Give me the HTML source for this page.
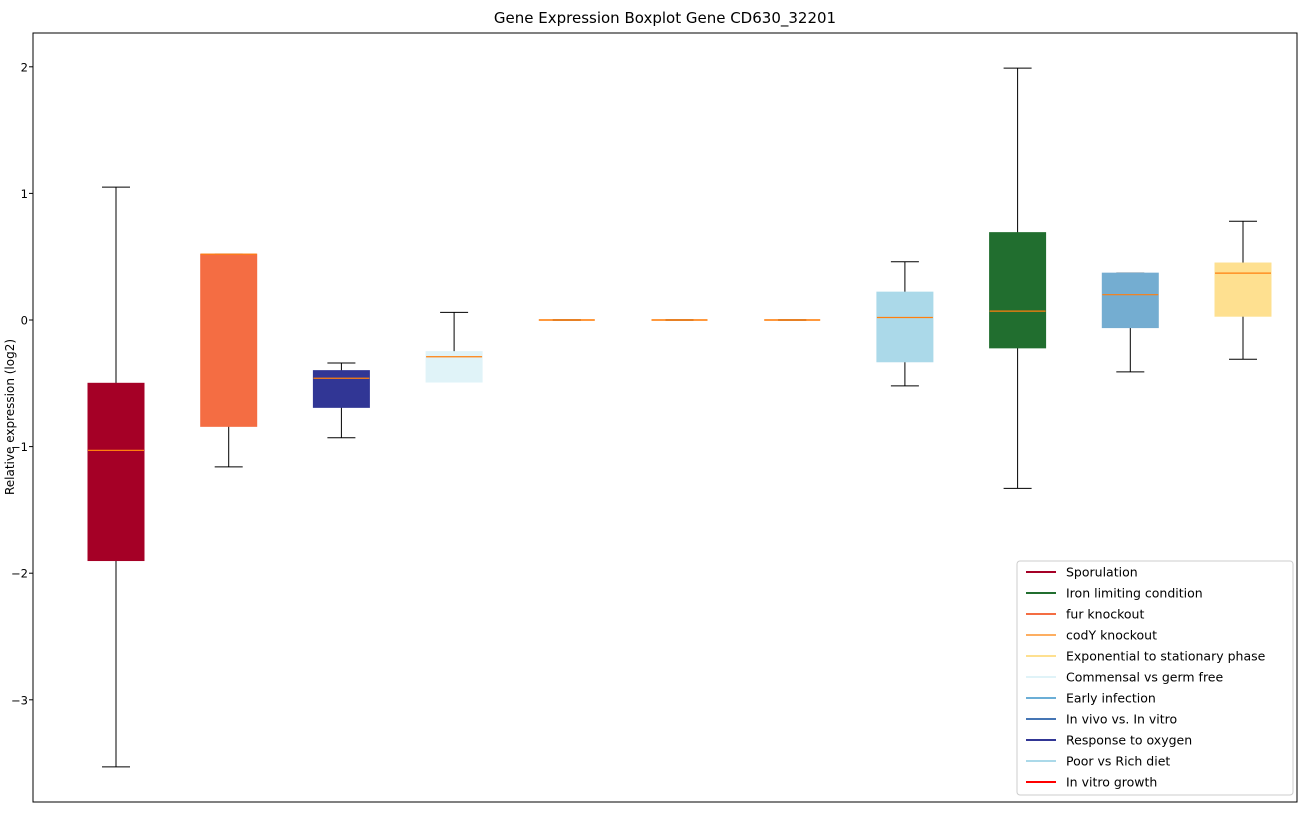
<!DOCTYPE html>
<html><head><meta charset="utf-8"><style>
body{margin:0;background:#fff;font-family:"Liberation Sans","DejaVu Sans",sans-serif;}
svg text{font-family:"DejaVu Sans","Liberation Sans",sans-serif;}
</style></head><body>
<svg id="chart" width="1309" height="812" xmlns="http://www.w3.org/2000/svg"></svg>
<script>
const categories=["Sporulation","fur knockout","Response to oxygen","Commensal vs germ free","codY knockout","In vivo vs. In vitro","In vitro growth","Poor vs Rich diet","Iron limiting condition","Early infection","Exponential to stationary phase"];
const colors=["#a50026","#f46d43","#313695","#e0f3f8","#fdae61","#4575b4","#ff0000","#abd9e9","#216e2f","#74add1","#fee090"];
const whiskLow=[-3.53,-1.16,-0.93,-0.49,0,0,0,-0.52,-1.33,-0.41,-0.31];
const q1=[-1.9,-0.84,-0.69,-0.49,0,0,0,-0.33,-0.22,-0.06,0.03];
const medians=[-1.03,0.52,-0.46,-0.29,0,0,0,0.02,0.07,0.2,0.37];
const q3=[-0.5,0.52,-0.40,-0.25,0,0,0,0.22,0.69,0.37,0.45];
const whiskHigh=[1.05,0.52,-0.34,0.06,0,0,0,0.46,1.99,0.37,0.78];
const yTicks=[-3,-2,-1,0,1,2];
const legendLabels=["Sporulation","Iron limiting condition","fur knockout","codY knockout","Exponential to stationary phase","Commensal vs germ free","Early infection","In vivo vs. In vitro","Response to oxygen","Poor vs Rich diet","In vitro growth"];
const legendColors=["#a50026","#216e2f","#f46d43","#fdae61","#fee090","#e0f3f8","#6baed6","#4575b4","#313695","#abd9e9","#ff0000"];

const svg=document.getElementById('chart');const NS="http://www.w3.org/2000/svg";
const L=33,R=1297,T=33,B=802;
const y=v=>320-126.6*v;
const x=i=>116+i*112.7;
function mk(tag,attrs,parent){const e=document.createElementNS(NS,tag);for(const k in attrs)e.setAttribute(k,attrs[k]);(parent||svg).appendChild(e);return e;}
const title=mk('text',{x:665,y:23,'text-anchor':'middle','font-size':15,fill:'#000'});title.textContent="Gene Expression Boxplot Gene CD630_32201";


const yl=mk('text',{x:0,y:0,transform:'translate(14,417) rotate(-90)','text-anchor':'middle','font-size':12});yl.textContent="Relative expression (log2)";


yTicks.forEach(t=>{const g=mk('g',{});


mk('line',{x1:L-4,x2:L,y1:y(t),y2:y(t),stroke:'#000'},g);
const tx=mk('text',{x:L-5,y:y(t)+4.5,'text-anchor':'end','font-size':11.5},g);tx.textContent=(t<0?'\u2212'+(-t):t);});
categories.forEach((c,i)=>{const g=mk('g',{});


const cx=x(i),w=56;
mk('line',{x1:cx,x2:cx,y1:y(whiskLow[i]),y2:y(q1[i]),stroke:'#000'},g);
mk('line',{x1:cx,x2:cx,y1:y(q3[i]),y2:y(whiskHigh[i]),stroke:'#000'},g);
mk('line',{x1:cx-14,x2:cx+14,y1:y(whiskLow[i]),y2:y(whiskLow[i]),stroke:'#000'},g);
mk('line',{x1:cx-14,x2:cx+14,y1:y(whiskHigh[i]),y2:y(whiskHigh[i]),stroke:'#000'},g);
const h=y(q1[i])-y(q3[i]);
if(h>0.5) mk('rect',{x:cx-w/2,y:y(q3[i]),width:w,height:h,fill:colors[i],stroke:colors[i]},g);
mk('line',{x1:cx-w/2,x2:cx+w/2,y1:y(medians[i]),y2:y(medians[i]),stroke:'#ff7f0e','stroke-width':h>0.5?1.2:2,'stroke-opacity':h>0.5?1:0.8},g);});
mk('rect',{x:L,y:T,width:R-L,height:B-T,fill:'none',stroke:'#000'});
const lg=mk('g',{});


mk('rect',{x:1017,y:561,width:276,height:234,rx:3,fill:'#fff',stroke:'#ccc'},lg);
legendLabels.forEach((l,i)=>{const e=mk('g',{},lg);


const yy=572+i*21;
mk('line',{x1:1026,x2:1056,y1:yy,y2:yy,stroke:legendColors[i],'stroke-width':2},e);
const t=mk('text',{x:1066,y:yy+4.5,'font-size':12.5},e);t.textContent=l;});
</script>
</body></html>
